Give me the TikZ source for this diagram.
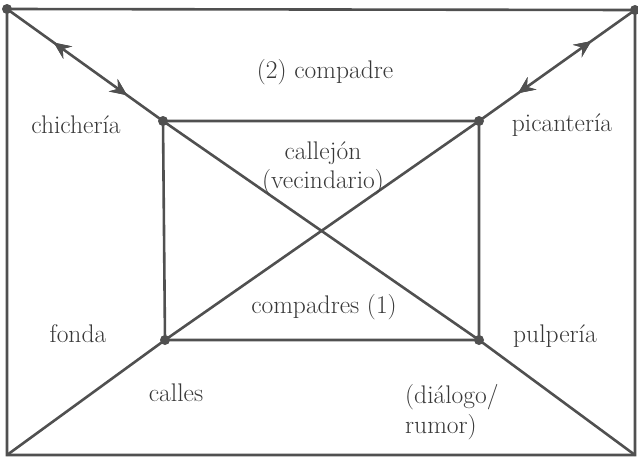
\documentclass[tikz,border=0pt]{standalone}
\usetikzlibrary{arrows.meta,decorations.markings}
\definecolor{ink}{HTML}{505050}
\tikzset{
  dot/.style={circle, fill=ink, inner sep=0pt, minimum size=10pt},
  edge/.style={draw=ink, line width=2.6pt},
  lbl/.style={text=ink!70!black, font=\fontsize{25.5}{30}\selectfont, inner sep=0pt},
  tipfwd/.style={postaction=decorate, decoration={markings, mark=at position #1 with {\arrow{Stealth[length=17pt,width=15pt,inset=6pt]}}}},
  tipback/.style={postaction=decorate, decoration={markings, mark=at position #1 with {\arrowreversed{Stealth[length=17pt,width=15pt,inset=6pt]}}}}
}
\begin{document}
\begin{tikzpicture}[x=1pt,y=-1pt]
\useasboundingbox (0,0) rectangle (638,458);
% outer corners
\node[dot] (otl) at (7,9) {};
\node[dot] (otr) at (635,10) {};
\coordinate (obl) at (7,455);
\coordinate (obr) at (635,455);
% inner corners
\node[dot] (itl) at (163,121) {};
\node[dot] (itr) at (479,121) {};
\node[dot] (ibl) at (165,340) {};
\node[dot] (ibr) at (479,340) {};
% outer rectangle
\draw[edge] (otl.center) -- (otr.center) -- (obr) -- (obl) -- cycle;
% inner rectangle
\draw[edge] (itl.center) -- (itr.center) -- (ibr.center) -- (ibl.center) -- cycle;
% diagonals
\draw[edge] (itl.center) -- (ibr.center) -- (obr);
\draw[edge] (obl) -- (ibl.center) -- (itr.center);
% arrowed segments
\draw[edge, tipback=0.30, tipfwd=0.77] (otl.center) -- (itl.center);
\draw[edge, tipback=0.25, tipfwd=0.72] (itr.center) -- (otr.center);
% labels
\node[lbl] (l2) at (325,72) {(2) compadre};
\node[lbl] (lch) at (76,125) {chichería};
\node[lbl] (lpi) at (562,125) {picantería};
\node[lbl] (lca) at (323,153) {callejón};
\node[lbl] (lve) at (323,182) {(vecindario)};
\node[lbl] (lc1) at (324,307) {compadres (1)};
\node[lbl] (lfo) at (78,334) {fonda};
\node[lbl] (lpu) at (555,336) {pulpería};
\node[lbl] (lcl) at (176,393) {calles};
\node[lbl, align=left, anchor=west] (ldi) at (405,412) {(diálogo/\\rumor)};
\end{tikzpicture}
\end{document}
